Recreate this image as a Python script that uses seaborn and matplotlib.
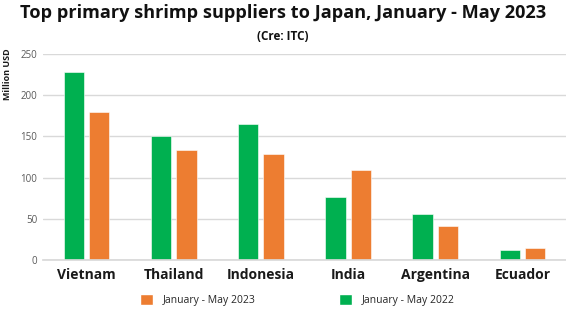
import matplotlib
matplotlib.use("Agg")
import matplotlib.pyplot as plt
import seaborn as sns
import pandas as pd
from matplotlib.patches import Patch

countries = ["Vietnam", "Thailand", "Indonesia", "India", "Argentina", "Ecuador"]
values_2022 = [228, 150, 165, 77, 56, 12]
values_2023 = [180, 134, 129, 109, 41, 15]
label_2022 = "January - May 2022"
label_2023 = "January - May 2023"
yticks = [0, 50, 100, 150, 200, 250]

df = pd.DataFrame({
    "country": countries * 2,
    "value": values_2022 + values_2023,
    "period": [label_2022] * len(countries) + [label_2023] * len(countries),
})

GREEN = "#00B050"
ORANGE = "#ED7D31"

sns.set_theme(style="white")
plt.rcParams["font.family"] = ["Open Sans", "DejaVu Sans"]

fig = plt.figure(figsize=(5.66, 3.24), dpi=100)
ax = fig.add_axes([43 / 566, 1 - 260 / 324, 523 / 566, 206 / 324])

sns.barplot(data=df, x="country", y="value", hue="period",
            hue_order=[label_2022, label_2023],
            palette={label_2022: GREEN, label_2023: ORANGE},
            saturation=1, width=0.58, gap=0.2, ax=ax, legend=False,
            edgecolor="white", linewidth=0.4)

ax.set_ylim(0, 250)
ax.set_yticks(yticks)
ax.set_yticklabels([str(t) for t in yticks], fontsize=7, color="#595959")
ax.yaxis.grid(True, color="#d9d9d9", linewidth=1)
ax.set_axisbelow(True)
for s in ["top", "right", "left"]:
    ax.spines[s].set_visible(False)
ax.spines["bottom"].set_color("#d9d9d9")
ax.tick_params(axis="both", length=0, pad=4)
ax.tick_params(axis="x", pad=6)
for lbl in ax.get_xticklabels():
    lbl.set_fontsize(10)
    lbl.set_fontweight("bold")
    lbl.set_color("#1a1a1a")
ax.set_xlabel("")
ax.set_ylabel("Million USD", fontsize=6.5, fontweight="bold", color="#1a1a1a", labelpad=6)
ax.yaxis.set_label_coords(-0.06, 0.9)

fig.text(0.5, 1 - 13 / 324, "Top primary shrimp suppliers to Japan, January - May 2023",
         ha="center", va="center", fontsize=13.1, fontweight="bold", color="#111111")
fig.text(0.5, 1 - 36 / 324, "(Cre: ITC)", ha="center", va="center",
         fontsize=8.5, fontweight="bold", color="#111111")

handles = [Patch(facecolor=ORANGE, label=label_2023), Patch(facecolor=GREEN, label=label_2022)]
fig.legend(handles=handles, loc="center", bbox_to_anchor=(297 / 566, 1 - 300 / 324),
           ncol=2, frameon=False, fontsize=7.5, columnspacing=8,
           handlelength=1.3, handleheight=1.3, handletextpad=0.9, labelcolor="#262626")

fig.savefig("out.png", dpi=100)
